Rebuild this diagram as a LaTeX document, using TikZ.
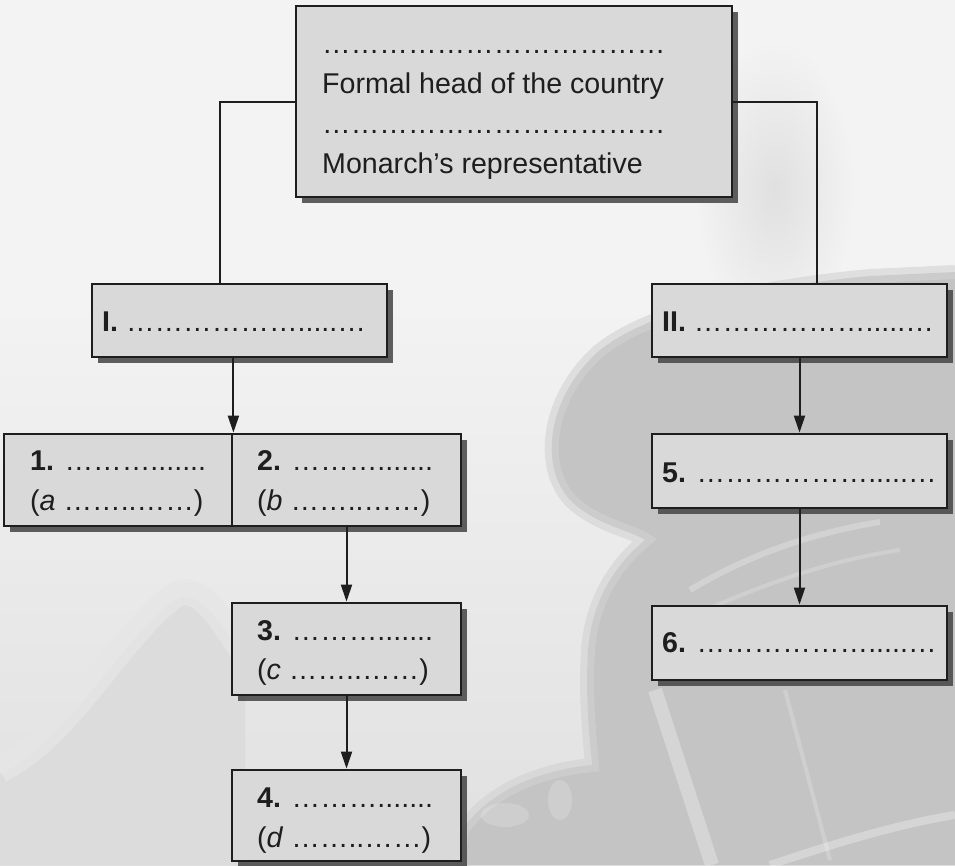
\documentclass[tikz,border=0pt]{standalone}
\usepackage{fontspec}
\setmainfont{Liberation Sans}
\usetikzlibrary{arrows.meta,shadows,calc}
\definecolor{ink}{HTML}{1E1E1E}
\definecolor{boxfill}{HTML}{D9D9D9}
\definecolor{shadecol}{HTML}{444444}
\definecolor{bg}{HTML}{F3F3F3}
\definecolor{hazeA}{HTML}{DCDCDC}
\definecolor{hazeB}{HTML}{E6E6E6}
\definecolor{hazeC}{HTML}{E0E0E0}
\definecolor{gav}{HTML}{C4C4C4}
\definecolor{gavedge}{HTML}{D2D2D2}
\newcommand{\eli}{…}
\newcommand{\dtop}{\eli\eli\eli\eli\eli\eli\eli\eli\eli\eli\eli\eli}
\newcommand{\dlong}{\eli\eli\eli\eli\eli\eli.....\eli}
\newcommand{\dshort}{\eli\eli\eli.......}
\newcommand{\dpar}{\eli\eli..\eli\eli}
\begin{document}
\begin{tikzpicture}[x=1pt,y=-1pt,
  box/.style={draw=ink, line width=2.8pt, fill=boxfill, inner sep=0pt,
    drop shadow={shadow xshift=6pt, shadow yshift=-6pt, fill=shadecol, opacity=0.85}},
  txt/.style={anchor=base west, inner sep=0pt, text=ink, font=\fontsize{28.6pt}{40pt}\selectfont},
  conn/.style={draw=ink, line width=2pt},
  arr/.style={conn, -{Triangle[length=17pt,width=11pt]}}]
\useasboundingbox (0,0) rectangle (955,865);
% ---------- background ----------
\fill[bg] (0,0) rectangle (955,865);
\shade[top color=bg, bottom color=hazeC] (0,300) rectangle (955,865);
\shade[inner color=hazeC, outer color=bg] (775,190) ellipse [x radius=80, y radius=150];
\fill[hazeA] (0,775) .. controls (70,740) and (120,640) .. (175,600)
  .. controls (200,585) and (225,630) .. (245,660) -- (245,865) -- (0,865) -- cycle;
\draw[hazeB, line width=26pt, opacity=0.7] (0,770) .. controls (70,735) and (120,635) .. (175,595)
  .. controls (200,580) and (225,625) .. (245,655);
\fill[gav] (955,272) -- (870,276) .. controls (760,286) and (650,310) .. (600,350)
  .. controls (548,395) and (538,465) .. (570,500)
  .. controls (595,525) and (630,530) .. (645,540)
  .. controls (615,565) and (592,600) .. (588,650)
  .. controls (585,700) and (590,740) .. (592,765)
  .. controls (540,770) and (490,790) .. (462,830) -- (458,865) -- (955,865) -- cycle;
\draw[gavedge, line width=14pt, opacity=0.6] (955,272) -- (870,276) .. controls (760,286) and (650,310) .. (600,350)
  .. controls (548,395) and (538,465) .. (570,500)
  .. controls (595,525) and (630,530) .. (645,540)
  .. controls (615,565) and (592,600) .. (588,650)
  .. controls (585,700) and (590,740) .. (592,765)
  .. controls (540,770) and (490,790) .. (462,830) -- (458,865);
\draw[white, opacity=0.3, line width=14pt] (655,690) -- (712,865);
\draw[white, opacity=0.2, line width=4pt] (785,690) -- (830,860);
\draw[white, opacity=0.3, line width=8pt] (770,865) .. controls (850,838) and (910,822) .. (955,815);
\draw[white, opacity=0.25, line width=6pt] (690,590) .. controls (740,560) and (800,535) .. (880,522);
\draw[white, opacity=0.2, line width=4pt] (700,612) .. controls (760,587) and (820,562) .. (900,550);
\fill[white, opacity=0.18] (505,815) ellipse [x radius=24, y radius=12];
\fill[white, opacity=0.18] (560,800) ellipse [x radius=12, y radius=20];
% ---------- boxes ----------
\node[box, minimum width=436pt, minimum height=191pt] (top) at (514,101.5) {};
\node[box, minimum width=295pt, minimum height=73pt] (bI) at (239.5,320.5) {};
\node[box, minimum width=295pt, minimum height=73pt] (bII) at (799.5,320.5) {};
\node[box, minimum width=228pt, minimum height=92pt] (b1) at (118,480) {};
\node[box, minimum width=229pt, minimum height=92pt] (b2) at (346.5,480) {};
\node[box, minimum width=229pt, minimum height=92pt] (b3) at (346.5,649) {};
\node[box, minimum width=229pt, minimum height=91pt] (b4) at (346.5,815.5) {};
\node[box, minimum width=295pt, minimum height=74pt] (b5) at (799.5,471) {};
\node[box, minimum width=295pt, minimum height=74pt] (b6) at (799.5,643) {};
% ---------- texts ----------
\node[txt] (t0a) at (322,53) {\dtop};
\node[txt] (t0b) at (322,93) {Formal head of the country};
\node[txt] (t0c) at (322,133) {\dtop};
\node[txt] (t0d) at (322,173) {Monarch’s representative};
\node[txt] (tI) at (102,331) {\textbf{I.} \dlong};
\node[txt] (tII) at (662,331) {\textbf{II.} \dlong};
\node[txt] (t5) at (662,482) {\textbf{5.} \dlong};
\node[txt] (t6) at (662,652) {\textbf{6.} \dlong};
\node[txt] (t1a) at (30,470) {\textbf{1.} \dshort};
\node[txt] (t1b) at (30,510) {(\textit{a} \dpar)};
\node[txt] (t2a) at (257,470) {\textbf{2.} \dshort};
\node[txt] (t2b) at (257,510) {(\textit{b} \dpar)};
\node[txt] (t3a) at (257,640) {\textbf{3.} \dshort};
\node[txt] (t3b) at (257,679) {(\textit{c} \dpar)};
\node[txt] (t4a) at (257,807) {\textbf{4.} \dshort};
\node[txt] (t4b) at (257,847) {(\textit{d} \dpar)};
% ---------- connectors ----------
\draw[conn] (top.west) -| ([xshift=-19.5pt]bI.north);
\draw[conn] (top.east) -| ([xshift=17.5pt]bII.north);
\draw[arr] (b1.north east |- bI.south) -- (b1.north east);
\draw[arr] (b2.south) -- (b3.north);
\draw[arr] (b3.south) -- (b4.north);
\draw[arr] (bII.south) -- (b5.north);
\draw[arr] (b5.south) -- (b6.north);
\end{tikzpicture}
\end{document}
